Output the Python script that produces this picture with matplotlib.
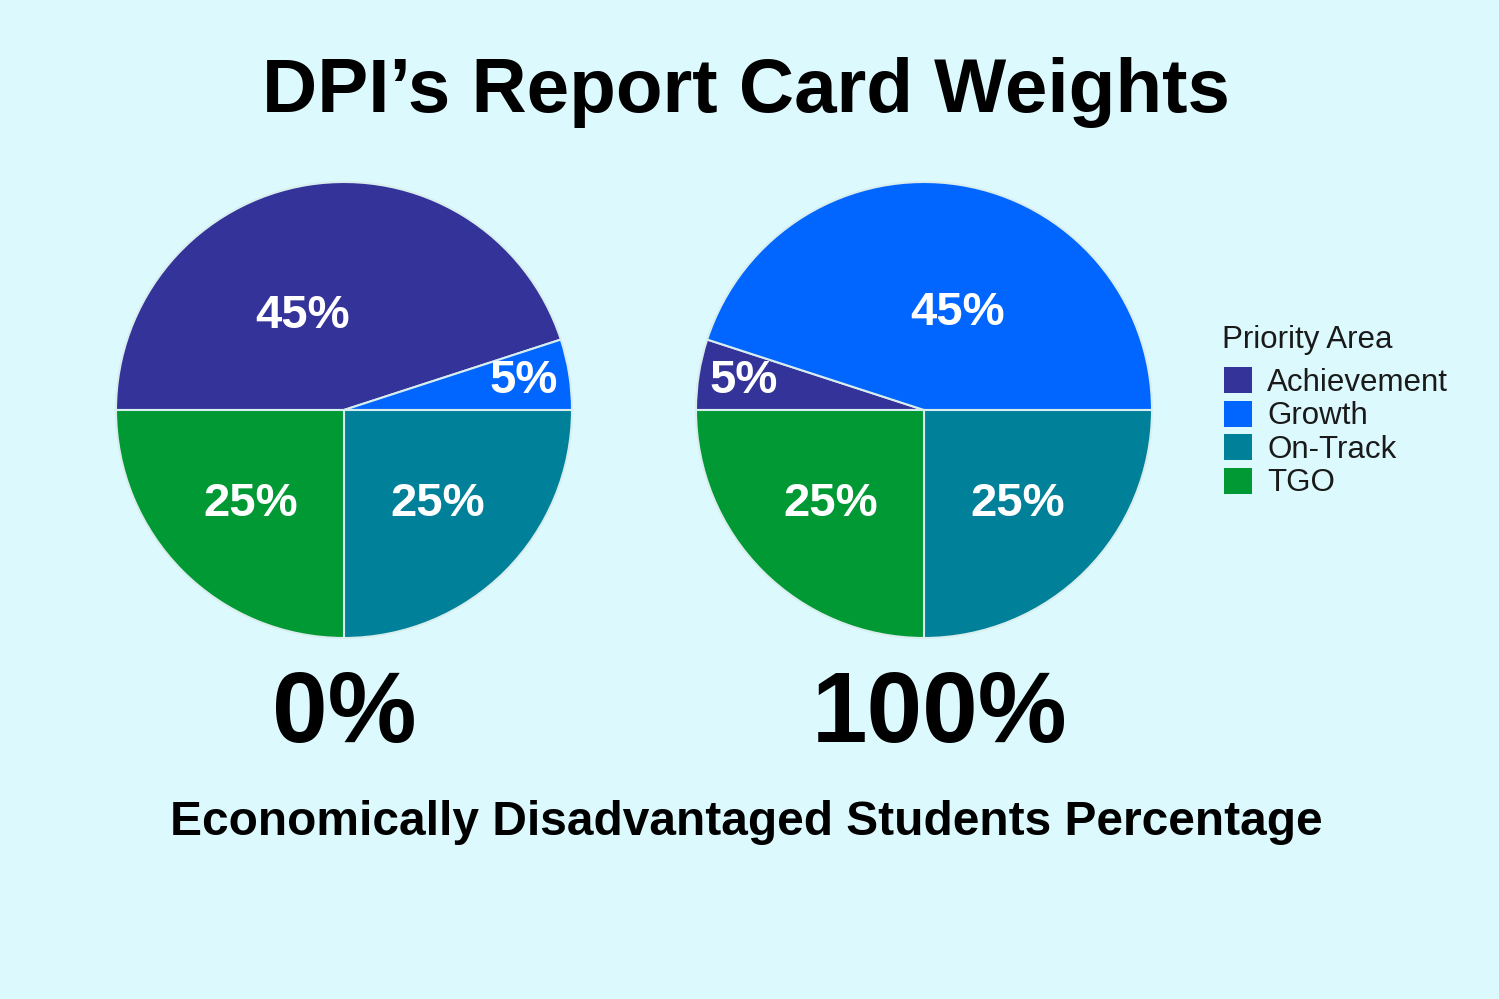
import matplotlib.pyplot as plt
from matplotlib.patches import Patch
import numpy as np

plt.rcParams['font.family'] = ['Liberation Sans', 'DejaVu Sans']

# data
areas = ['Achievement', 'Growth', 'On-Track', 'TGO']
weights_0 = [45, 5, 25, 25]      # 0% econ. disadvantaged
weights_100 = [5, 45, 25, 25]    # 100% econ. disadvantaged
pie_titles = ['0%', '100%']
colors = ['#333399', '#0066ff', '#008099', '#009933']
bg = '#dcfafe'

W, H = 1499, 999
fig = plt.figure(figsize=(W / 100, H / 100), dpi=100, facecolor=bg)


def px_axes(cx, cy, r):
    # axes in pixel coords, square box around the pie
    return fig.add_axes([(cx - r) / W, 1 - (cy + r) / H, 2 * r / W, 2 * r / H])


def draw_pie(ax, values, big_nudge):
    wedges, _ = ax.pie(values, colors=colors, startangle=180, counterclock=False,
                       radius=1, wedgeprops=dict(edgecolor='#d8eeee', linewidth=1.5))
    for w, v in zip(wedges, values):
        mid = np.deg2rad((w.theta1 + w.theta2) / 2)
        if v < 10:
            rr = 0.8
        elif v > 40:
            rr = 0.45
            mid += np.deg2rad(big_nudge)  # labels sit a bit off-centre in the original
        else:
            rr = 0.58
        ax.text(rr * np.cos(mid), rr * np.sin(mid), f'{v}%', ha='center', va='center',
                color='white', fontsize=34, fontweight='bold')
    ax.set_xlim(-1, 1)
    ax.set_ylim(-1, 1)
    ax.set_aspect('equal')
    ax.axis('off')


ax1 = px_axes(344, 410, 228)
draw_pie(ax1, weights_0, 15)
ax2 = px_axes(924, 410, 228)
draw_pie(ax2, weights_100, -10)

fig.text(746 / W, 1 - 112 / H, 'DPI’s Report Card Weights', ha='center', va='baseline',
         fontsize=55, fontweight='bold')
fig.text(344 / W, 1 - 742 / H, pie_titles[0], ha='center', va='baseline',
         fontsize=72, fontweight='bold')
fig.text(940 / W, 1 - 742 / H, pie_titles[1], ha='center', va='baseline',
         fontsize=72, fontweight='bold')
fig.text(746 / W, 1 - 835 / H, 'Economically Disadvantaged Students Percentage',
         ha='center', va='baseline', fontsize=34.5, fontweight='bold')

fig.text(1222 / W, 1 - 340 / H, 'Priority Area', ha='left', va='center',
         fontsize=22.5, color='#1a1a1a')
handles = [Patch(facecolor=c, edgecolor='none') for c in colors]
leg = fig.legend(handles, areas, loc='upper left',
                 bbox_to_anchor=(1224 / W, 1 - 367 / H), frameon=False,
                 fontsize=22.5, borderpad=0, borderaxespad=0,
                 handlelength=0.9, handleheight=0.9, handletextpad=0.48,
                 labelspacing=0.09)
for t in leg.get_texts():
    t.set_color('#1a1a1a')

fig.savefig('out.png', dpi=100, facecolor=bg)
